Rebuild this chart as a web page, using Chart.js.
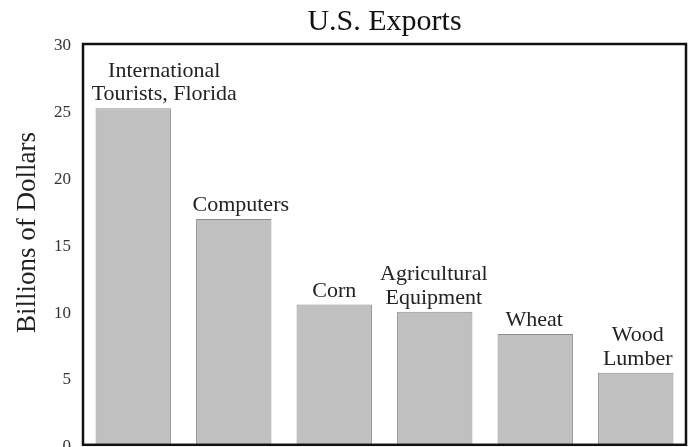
<!DOCTYPE html>
<html>
<head>
<meta charset="utf-8">
<script src="https://cdn.jsdelivr.net/npm/chart.js@4/dist/chart.umd.min.js"></script>
<style>
  html, body { margin: 0; padding: 0; background: #fff; }
  #wrap { width: 690px; height: 447px; overflow: hidden; }
  #box { width: 690px; height: 467px; }
</style>
</head>
<body>
<div id="wrap"><div id="box"><canvas id="grafico"></canvas></div></div>
<script>
const categorias = [
  ["International", "Tourists, Florida"],
  ["Computers"],
  ["Corn"],
  ["Agricultural", "Equipment"],
  ["Wheat"],
  ["Wood", "Lumber"]
];
const valores = [25.2, 16.9, 10.5, 9.95, 8.3, 5.4];
const ticksY = [0, 5, 10, 15, 20, 25, 30];
const tituloY = "Billions of Dollars";

const fonteSerif = "'Liberation Serif', 'Times New Roman', serif";

// deslocamento horizontal dos rótulos (como no original, alguns não ficam centrados)
const deslocRotulo = [31, 7, 0, -1, -1, 2];

// rótulos acima de cada barra
const rotulosBarras = {
  id: "rotulosBarras",
  afterDatasetsDraw(chart) {
    const ctx = chart.ctx;
    const meta = chart.getDatasetMeta(0);
    ctx.save();
    ctx.font = "22px " + fonteSerif;
    ctx.fillStyle = "#222";
    ctx.textAlign = "center";
    ctx.textBaseline = "alphabetic";
    meta.data.forEach((bar, i) => {
      const linhas = categorias[i];
      const alturaLinha = 23.5;
      linhas.forEach((txt, j) => {
        const y = bar.y - 8 - (linhas.length - 1 - j) * alturaLinha;
        ctx.fillText(txt, bar.x + deslocRotulo[i], y);
      });
    });
    ctx.restore();
  }
};

// título do eixo Y (um pouco acima do centro, como no original)
const tituloEixoY = {
  id: "tituloEixoY",
  afterDraw(chart) {
    const a = chart.chartArea;
    const ctx = chart.ctx;
    ctx.save();
    ctx.translate(28, (a.top + a.bottom) / 2 - 12);
    ctx.rotate(-Math.PI / 2);
    ctx.font = "27px " + fonteSerif;
    ctx.fillStyle = "#222";
    ctx.textAlign = "center";
    ctx.textBaseline = "middle";
    ctx.fillText(tituloY, 0, 0);
    ctx.restore();
  }
};

// moldura preta em volta da área do gráfico
const moldura = {
  id: "moldura",
  afterDraw(chart) {
    const a = chart.chartArea;
    const ctx = chart.ctx;
    ctx.save();
    ctx.strokeStyle = "#111";
    ctx.lineWidth = 2.5;
    ctx.strokeRect(a.left, a.top, a.right - a.left, a.bottom - a.top);
    ctx.restore();
  }
};

new Chart(document.getElementById("grafico").getContext("2d"), {
  type: "bar",
  data: {
    labels: categorias,
    datasets: [{
      data: valores,
      backgroundColor: "#c0c0c0",
      borderColor: "#8c8c8c",
      borderWidth: 1,
      categoryPercentage: 1,
      barPercentage: 0.75
    }]
  },
  options: {
    responsive: true,
    maintainAspectRatio: false,
    animation: false,
    layout: { padding: { top: 0, right: 4, bottom: 0, left: 0 } },
    plugins: {
      legend: { display: false },
      tooltip: { enabled: false },
      title: {
        display: true,
        text: "U.S. Exports",
        fullSize: false,
        color: "#111",
        font: { family: fonteSerif, size: 30, weight: "normal" },
        padding: { top: 4, bottom: 4 }
      }
    },
    scales: {
      x: { display: false },
      y: {
        min: 0,
        max: 30,
        afterBuildTicks: (scale) => { scale.ticks = ticksY.map(v => ({ value: v })); },
        afterFit: (scale) => { scale.width = 83; },
        grid: { display: false, drawTicks: false },
        border: { display: false },
        ticks: {
          color: "#333",
          padding: 12,
          labelOffset: 2,
          font: { family: fonteSerif, size: 17 }
        }
      }
    }
  },
  plugins: [rotulosBarras, tituloEixoY, moldura]
});
</script>
</body>
</html>
